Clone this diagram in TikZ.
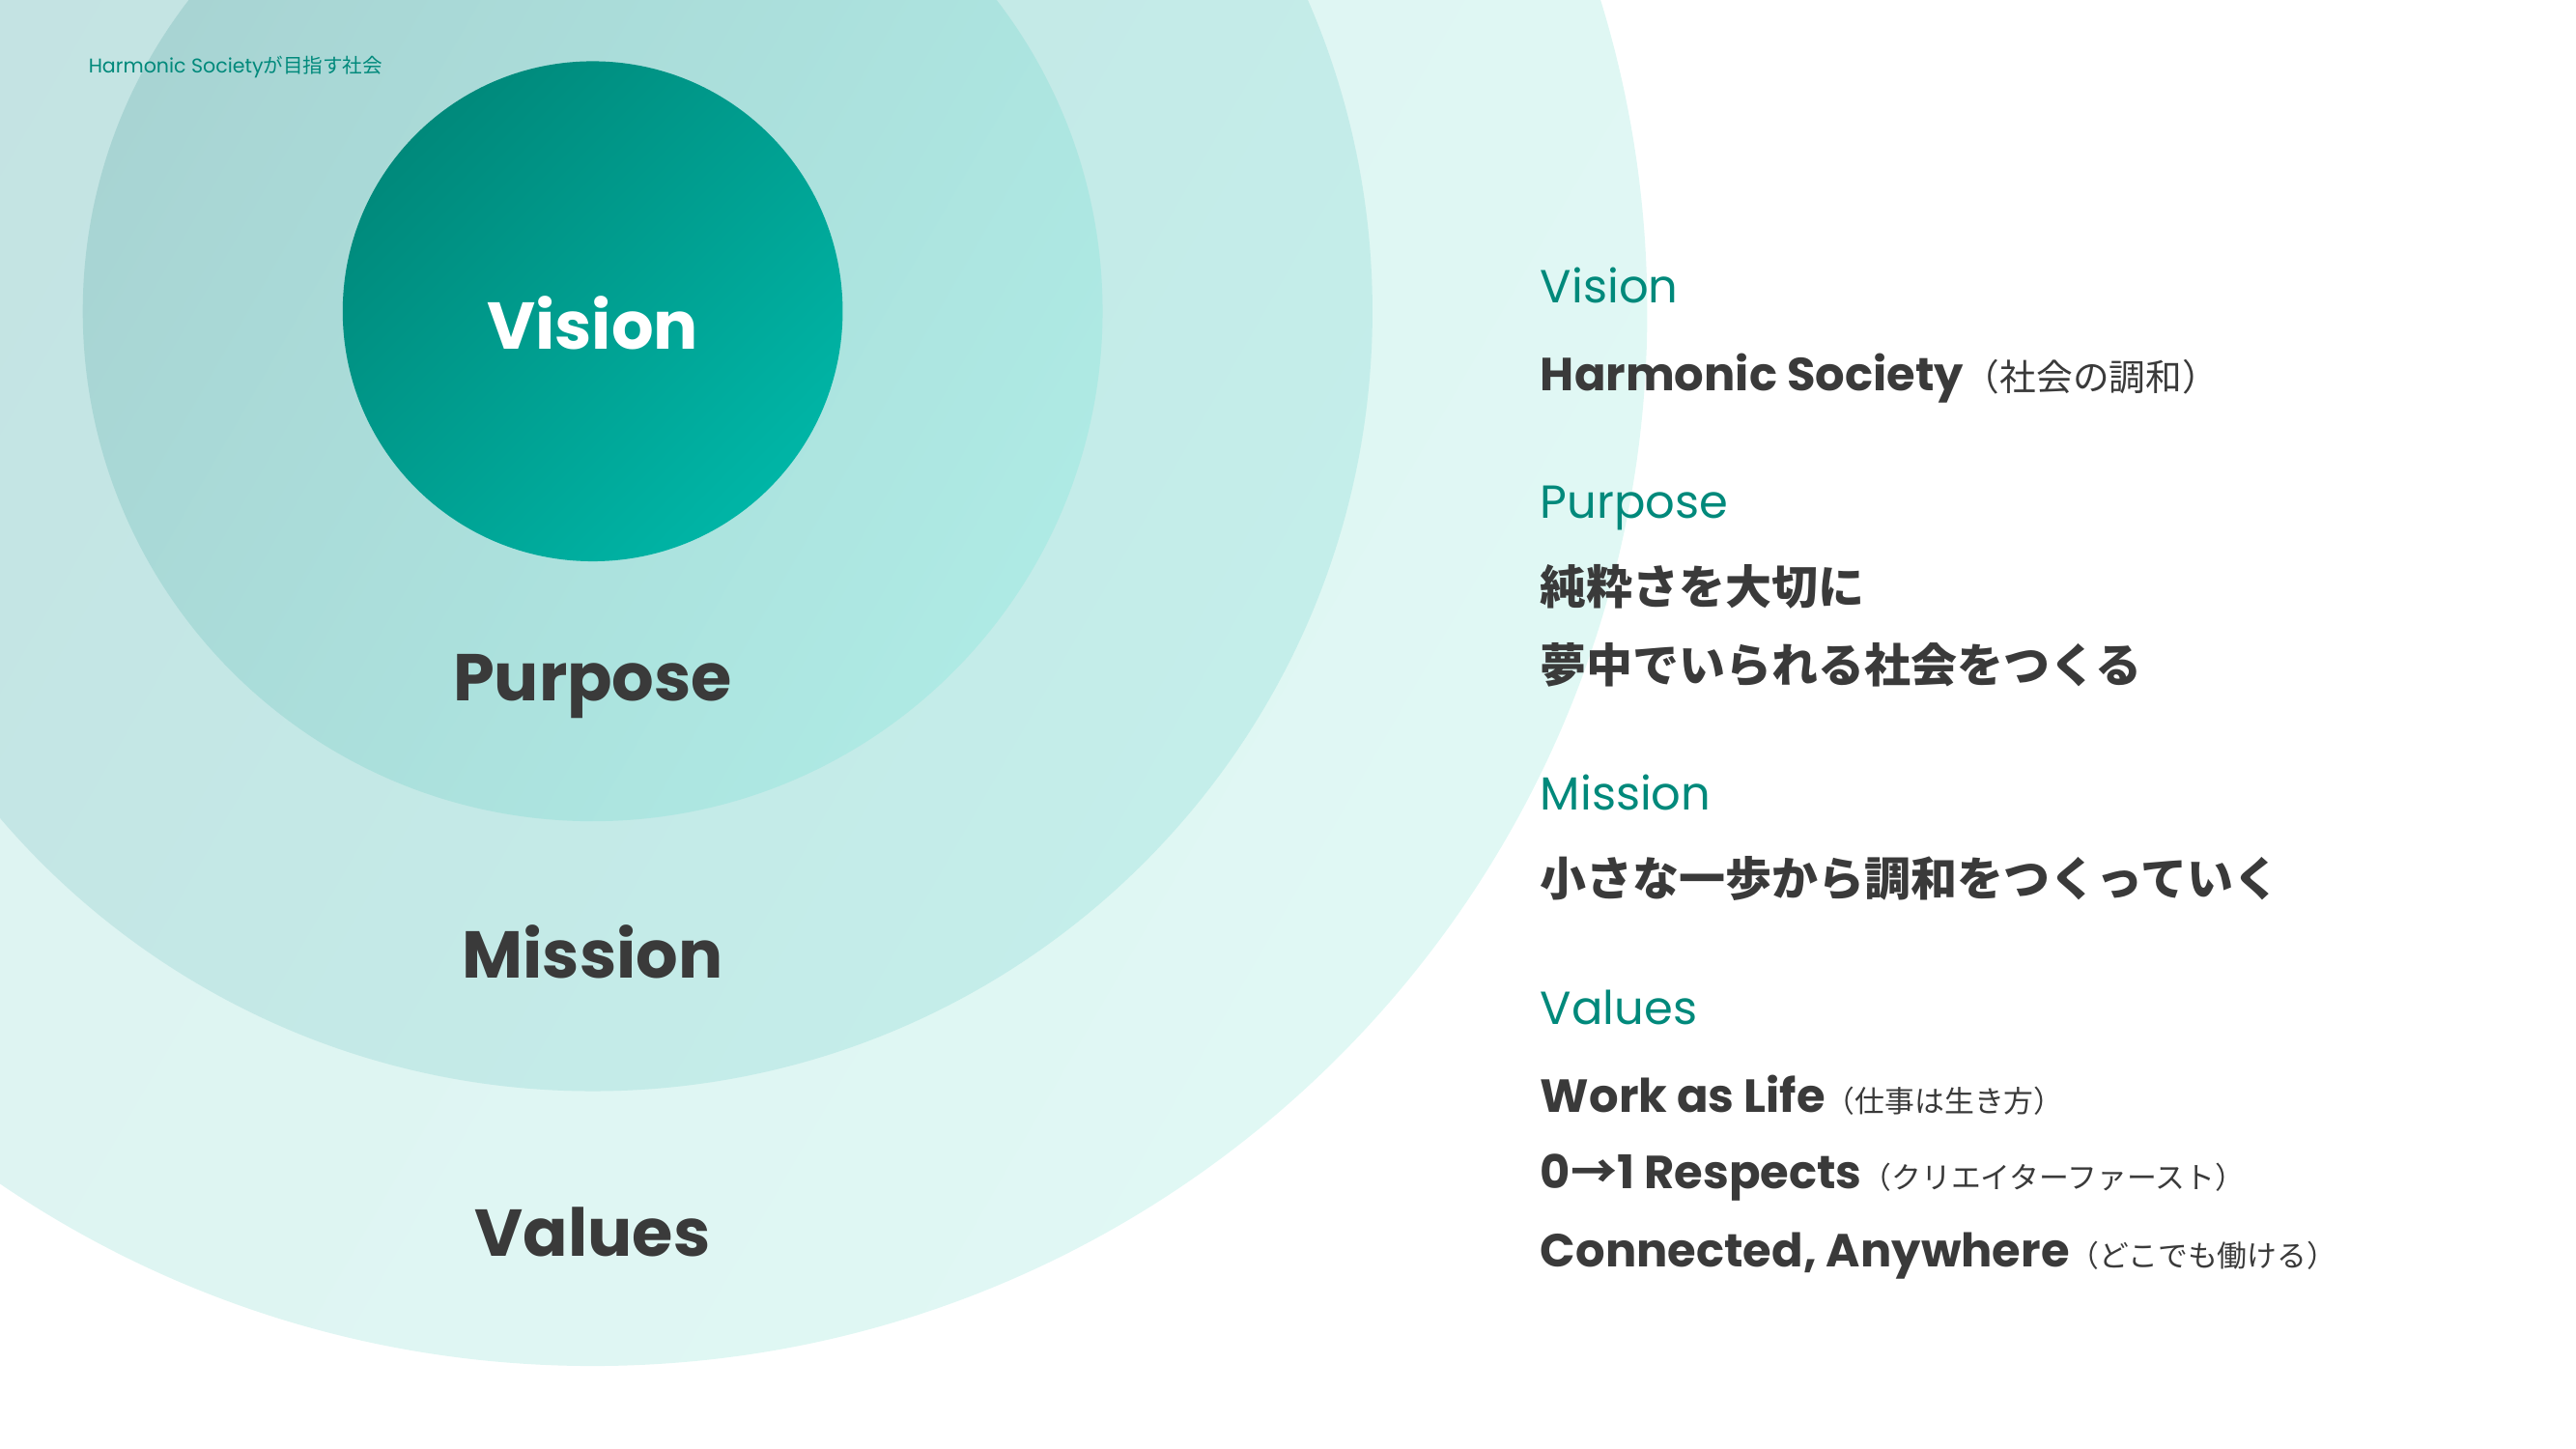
\documentclass[tikz,border=0pt]{standalone}
\usepackage{fontspec}
\setmainfont{Poppins}
\newfontfamily\jp{Noto Sans CJK JP}
\newfontfamily\jpb{Noto Sans CJK JP Bold}
\definecolor{teal1}{HTML}{00897B}
\definecolor{teal2}{HTML}{00B5A6}
\definecolor{tealtxt}{HTML}{00897B}
\definecolor{dark}{HTML}{3A3A3A}
\definecolor{c4a}{HTML}{DCF1F0}
\definecolor{c4b}{HTML}{E0F8F4}
\definecolor{c3a}{HTML}{C4E2E2}
\definecolor{c3b}{HTML}{C4EEEA}
\definecolor{c2a}{HTML}{A8D4D3}
\definecolor{c2b}{HTML}{AEEAE4}
\begin{document}
\begin{tikzpicture}[x=1pt,y=-1pt,
  head/.style={anchor=base west,text=tealtxt,font=\fontsize{28}{32}\selectfont},
  body/.style={anchor=base west,text=dark,font=\bfseries\fontsize{28}{32}\selectfont},
  ring/.style={anchor=base,text=dark,font=\bfseries\fontsize{40}{44}\selectfont}]
\useasboundingbox (0,0) rectangle (1556,875);
\clip (0,0) rectangle (1556,875);
\shade[left color=c4a, right color=c4b, shading angle=60] (358,188) circle (637);
\shade[left color=c3a, right color=c3b, shading angle=60] (358,188) circle (471);
\shade[left color=c2a, right color=c2b, shading angle=60] (358,188) circle (308);
\shade[left color=teal1, right color=teal2, shading angle=45] (358,188) circle (151);
\node[anchor=base west,text=tealtxt,font=\fontsize{12}{14}\selectfont] (tag) at (50,44) {Harmonic Society\jp が目指す社会};
\node[anchor=base,text=white,font=\bfseries\fontsize{40}{44}\selectfont] (v) at (358,211) {Vision};
\node[ring] (p) at (358,423) {Purpose};
\node[ring] (m) at (358,591) {Mission};
\node[ring] (va) at (358,759) {Values};
\node[head] (h1) at (927,183) {Vision};
\node[body] (b1) at (927,236) {Harmonic Society{\mdseries\jp\fontsize{22}{26}\selectfont （社会の調和）}};
\node[head] (h2) at (927,313) {Purpose};
\node[body] (b2) at (927,365) {\jpb 純粋さを大切に};
\node[body] (b3) at (927,412) {\jpb 夢中でいられる社会をつくる};
\node[head] (h3) at (927,489) {Mission};
\node[body] (b4) at (927,541) {\jpb 小さな一歩から調和をつくっていく};
\node[head] (h4) at (927,619) {Values};
\node[body] (b5) at (927,672) {Work as Life{\mdseries\jp\fontsize{18}{22}\selectfont （仕事は生き方）}};
\node[body] (b6) at (927,718) {0{\jp →}1 Respects{\mdseries\jp\fontsize{18}{22}\selectfont （クリエイターファースト）}};
\node[body] (b7) at (927,765) {Connected, Anywhere{\mdseries\jp\fontsize{18}{22}\selectfont （どこでも働ける）}};
\end{tikzpicture}
\end{document}
